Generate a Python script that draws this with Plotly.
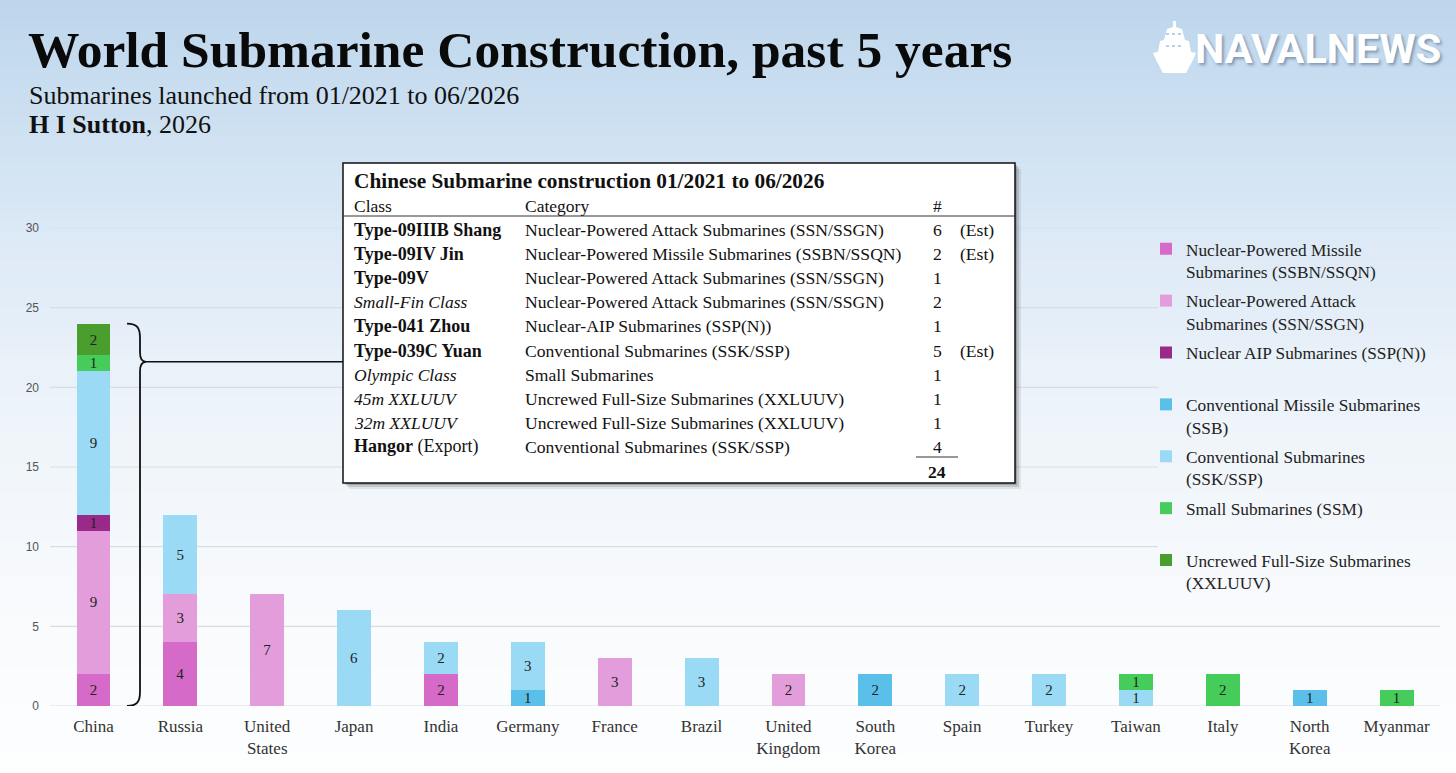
import plotly.graph_objects as go

# Canvas and plot-area geometry (pixels)
W, H = 1456, 773
ML, MR, MT, MB = 50, 16, 228, 67
PW = W - ML - MR
PH = H - MT - MB


def fx(px):
    return (px - ML) / PW


def fy(py):
    return (H - MB - py) / PH


# ---------------- data ----------------
countries = ['China', 'Russia', 'United States', 'Japan', 'India', 'Germany', 'France', 'Brazil',
             'United Kingdom', 'South Korea', 'Spain', 'Turkey', 'Taiwan', 'Italy', 'North Korea', 'Myanmar']
tick_labels = ['China', 'Russia', 'United<br>States', 'Japan', 'India', 'Germany', 'France', 'Brazil',
               'United<br>Kingdom', 'South<br>Korea', 'Spain', 'Turkey', 'Taiwan', 'Italy', 'North<br>Korea', 'Myanmar']

ssbn   = [2, 4, 0, 0, 2, 0, 0, 0, 0, 0, 0, 0, 0, 0, 0, 0]
ssn    = [9, 3, 7, 0, 0, 0, 3, 0, 2, 0, 0, 0, 0, 0, 0, 0]
sspn   = [1, 0, 0, 0, 0, 0, 0, 0, 0, 0, 0, 0, 0, 0, 0, 0]
ssb    = [0, 0, 0, 0, 0, 1, 0, 0, 0, 2, 0, 0, 0, 0, 1, 0]
ssk    = [9, 5, 0, 6, 2, 3, 0, 3, 0, 0, 2, 2, 1, 0, 0, 0]
ssm    = [1, 0, 0, 0, 0, 0, 0, 0, 0, 0, 0, 0, 1, 2, 0, 1]
xxluuv = [2, 0, 0, 0, 0, 0, 0, 0, 0, 0, 0, 0, 0, 0, 0, 0]

series_names = [
    'Nuclear-Powered Missile<br>Submarines (SSBN/SSQN)',
    'Nuclear-Powered Attack<br>Submarines (SSN/SSGN)',
    'Nuclear AIP Submarines (SSP(N))<br>\u00a0',
    'Conventional Missile Submarines<br>(SSB)',
    'Conventional Submarines<br>(SSK/SSP)',
    'Small Submarines (SSM)<br>\u00a0',
    'Uncrewed Full-Size Submarines<br>(XXLUUV)',
]
series_values = [ssbn, ssn, sspn, ssb, ssk, ssm, xxluuv]
series_colors = ['#d66ac8', '#e39ddb', '#9a2a8a', '#5ac0ea', '#9adaf5', '#45cc5a', '#4a9e2e']

# Inset table: Chinese construction
china_classes = ['Type-09IIIB Shang', 'Type-09IV Jin', 'Type-09V', 'Small-Fin Class', 'Type-041 Zhou',
                 'Type-039C Yuan', 'Olympic Class', '45m XXLUUV', '32m XXLUUV', 'Hangor']
class_style = ['b', 'b', 'b', 'i', 'b', 'b', 'i', 'i', 'i', 'b']
class_suffix = ['', '', '', '', '', '', '', '', '', ' (Export)']
china_categories = [
    'Nuclear-Powered Attack Submarines (SSN/SSGN)',
    'Nuclear-Powered Missile Submarines (SSBN/SSQN)',
    'Nuclear-Powered Attack Submarines (SSN/SSGN)',
    'Nuclear-Powered Attack Submarines (SSN/SSGN)',
    'Nuclear-AIP Submarines (SSP(N))',
    'Conventional Submarines (SSK/SSP)',
    'Small Submarines',
    'Uncrewed Full-Size Submarines (XXLUUV)',
    'Uncrewed Full-Size Submarines (XXLUUV)',
    'Conventional Submarines (SSK/SSP)',
]
china_counts = [6, 2, 1, 2, 1, 5, 1, 1, 1, 4]
china_notes = ['(Est)', '(Est)', '', '', '', '(Est)', '', '', '', '']

SERIF = 'Liberation Serif, Times New Roman, serif'

fig = go.Figure()

for name, vals, col in zip(series_names, series_values, series_colors):
    fig.add_trace(go.Bar(
        x=countries, y=vals, name=name, legendgroup=name,
        marker=dict(color=col, line=dict(width=0)),
        text=[str(v) if v else '' for v in vals],
        textposition='inside', insidetextanchor='middle', textangle=0,
        insidetextfont=dict(family=SERIF, size=15, color='#222222'),
        hoverinfo='x+y+name',
    ))

shapes = []

# background gradient (light blue -> white)
stops = [(0, (189, 214, 236)), (120, (205, 224, 241)), (250, (222, 234, 246)),
         (420, (238, 244, 250)), (600, (248, 250, 253)), (773, (253, 254, 254))]


def grad(py):
    for (a, ca), (b, cb) in zip(stops[:-1], stops[1:]):
        if a <= py <= b:
            t = (py - a) / (b - a)
            return 'rgb(%d,%d,%d)' % tuple(round(ca[i] + (cb[i] - ca[i]) * t) for i in range(3))
    return 'rgb(253,254,254)'


n_strips = 80
for i in range(n_strips):
    y_top = H * i / n_strips
    y_bot = H * (i + 1) / n_strips + 0.6
    shapes.append(dict(type='rect', xref='paper', yref='paper', layer='below',
                       x0=fx(0), x1=fx(W), y0=fy(y_bot), y1=fy(y_top),
                       fillcolor=grad((y_top + y_bot) / 2), line=dict(width=0)))

# gridlines (hidden behind the legend area for 10..25)
for v in range(0, 31, 5):
    x_end = 1.0 if v in (0, 5, 30) else fx(1158)
    shapes.append(dict(type='line', xref='x domain', yref='y', layer='below',
                       x0=0, x1=x_end, y0=v, y1=v,
                       line=dict(color='#d8dde3', width=1.2)))

# inset table box with shadow
bx0, by0, bx1, by1 = 343, 163, 1015, 483
for off, alpha in [(6, 0.10), (4, 0.18), (2, 0.25)]:
    shapes.append(dict(type='rect', xref='paper', yref='paper', layer='above',
                       x0=fx(bx0 + off), x1=fx(bx1 + off), y0=fy(by1 + off), y1=fy(by0 + off),
                       fillcolor='rgba(60,60,60,%.2f)' % alpha, line=dict(width=0)))
shapes.append(dict(type='rect', xref='paper', yref='paper', layer='above',
                   x0=fx(bx0), x1=fx(bx1), y0=fy(by1), y1=fy(by0),
                   fillcolor='white', line=dict(color='#111111', width=1.5)))
shapes.append(dict(type='line', xref='paper', yref='paper', layer='above',
                   x0=fx(bx0), x1=fx(bx1), y0=fy(216), y1=fy(216),
                   line=dict(color='#333333', width=1)))
shapes.append(dict(type='line', xref='paper', yref='paper', layer='above',
                   x0=fx(916), x1=fx(958), y0=fy(457), y1=fy(457),
                   line=dict(color='#333333', width=1)))

# curly brace spanning the China bar, with connector to the table
china_total = sum(s[0] for s in series_values)
cusp = china_total * 0.9
xa, xb, xc = fx(127), fx(140), fx(146)
brace = ('M {a},{t} C {m},{t} {b},{t1} {b},{t2} L {b},{c2} C {b},{c1} {m2},{c} {c3},{c} '
         'C {m2},{c} {b},{c0} {b},{c4} L {b},{z2} C {b},{z1} {m},0 {a},0').format(
    a=xa, b=xb, m=fx(137), m2=fx(142), c3=xc, t=china_total, t1=china_total - 0.25, t2=china_total - 0.9,
    c=cusp, c2=cusp + 0.6, c1=cusp + 0.15, c0=cusp - 0.15, c4=cusp - 0.6, z2=0.9, z1=0.25)
shapes.append(dict(type='path', xref='paper', yref='y', layer='above', path=brace,
                   line=dict(color='#111111', width=1.8)))
shapes.append(dict(type='line', xref='paper', yref='y', layer='above',
                   x0=xc, x1=fx(bx0), y0=cusp, y1=cusp,
                   line=dict(color='#111111', width=1.5)))

# NAVALNEWS ship icon (white)
ship_pts = [(1173, 21), (1176, 21), (1176, 27), (1182, 29), (1185, 40), (1189, 41), (1191, 52),
            (1196, 53), (1193, 60), (1186, 73), (1163, 73), (1156, 60), (1153, 53), (1158, 52),
            (1160, 41), (1164, 40), (1167, 29), (1173, 27)]
ship_path = 'M ' + ' L '.join('%f,%f' % (fx(px), fy(py)) for px, py in ship_pts) + ' Z'
shapes.append(dict(type='path', xref='paper', yref='paper', layer='above', path=ship_path,
                   fillcolor='white', line=dict(width=0)))
for yy in (34, 46):
    shapes.append(dict(type='line', xref='paper', yref='paper', layer='above',
                       x0=fx(1166), x1=fx(1184), y0=fy(yy), y1=fy(yy),
                       line=dict(color='#9fc2e2', width=1.5, dash='dot')))

annotations = []


def note(text, px, py, size, xanchor='left', family=SERIF, color='#111111', **kw):
    annotations.append(dict(text=text, x=fx(px), y=fy(py), xref='paper', yref='paper',
                            xanchor=xanchor, yanchor='middle', showarrow=False,
                            font=dict(family=family, size=size, color=color), **kw))


# header texts
note('<b>World Submarine Construction, past 5 years</b>', 26, 49, 51.5, color='#0a0a0a')
note('Submarines launched from 01/2021 to 06/2026', 27, 95, 26, color='#111111')
note('<b>H I Sutton</b>, 2026', 27, 124, 26, color='#111111')
note('<b>NAVALNEWS</b>', 1193, 48, 41.5, family='Roboto, sans-serif', color='white')
annotations[-1]['font']['shadow'] = '2px 2px 3px rgba(40,70,110,0.45)'

# table texts
note('<b>Chinese Submarine construction 01/2021 to 06/2026</b>', 352, 181, 21.3)
note('Class', 352, 206, 17.5)
note('Category', 523, 206, 17.5)
note('#', 937, 206, 17.5, xanchor='center')
for i, (cls, sty, suf, cat, cnt, nt) in enumerate(zip(china_classes, class_style, class_suffix,
                                                        china_categories, china_counts, china_notes)):
    ry = 230 + i * 24.1
    note('<%s>%s</%s>%s' % (sty, cls, sty, suf), 352, ry, 18 if sty == 'b' else 17.5)
    note(cat, 523, ry, 17.6)
    note(str(cnt), 937, ry, 17.6, xanchor='center')
    if nt:
        note(nt, 958, ry, 17.6)
note('<b>%d</b>' % sum(china_counts), 937, 472, 17.6, xanchor='center')

fig.update_layout(
    width=W, height=H,
    barmode='stack', bargap=0.61,
    margin=dict(l=ML, r=MR, t=MT, b=MB, autoexpand=False),
    paper_bgcolor='white', plot_bgcolor='rgba(0,0,0,0)',
    uniformtext=dict(minsize=13, mode='show'),
    shapes=shapes, annotations=annotations,
    legend=dict(x=fx(1146), y=fy(231), xanchor='left', yanchor='top', xref='paper', yref='paper',
                traceorder='grouped', valign='top', tracegroupgap=3.9, itemwidth=30,
                bgcolor='rgba(0,0,0,0)', font=dict(family=SERIF, size=17.3, color='#222222')),
    showlegend=True,
    xaxis=dict(tickmode='array', tickvals=countries, ticktext=tick_labels,
               showgrid=False, zeroline=False, showline=False, ticks='',
               tickfont=dict(family=SERIF, size=17, color='#333333'), ticklabelstandoff=8),
    yaxis=dict(range=[0, 30], tickvals=list(range(0, 31, 5)), showgrid=False, zeroline=False,
               showline=False, ticks='', ticklabelstandoff=10,
               tickfont=dict(family='Liberation Sans, Arial, sans-serif', size=12, color='#555555')),
)

# drop the browser's default page margin so the figure starts at the window corner
fig.write_html('out.html', config={'displayModeBar': False},
               post_script="document.body.style.margin='0px';")
